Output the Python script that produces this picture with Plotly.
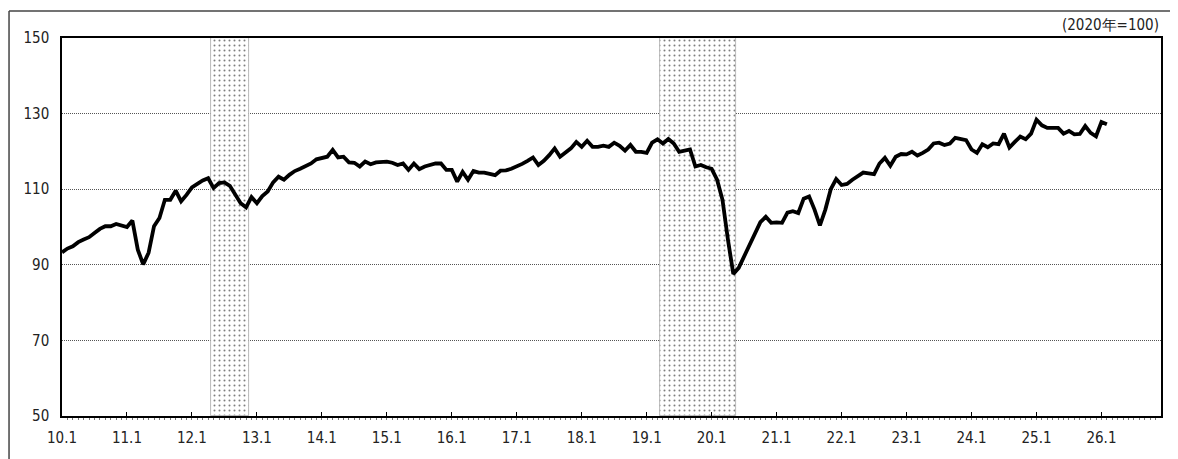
import pandas as pd
import plotly.graph_objects as go

# monthly index, 2010-01 .. 2026-02 (2020 = 100)
start_month = "2010-01"
values = [
    93.3, 94.3, 94.9, 96.0, 96.7, 97.3, 98.4, 99.5, 100.2, 100.2, 100.8, 100.4,
    100.0, 101.7, 94.0, 90.1, 93.2, 100.2, 102.4, 107.2, 107.2, 109.6, 106.8, 108.5,
    110.5, 111.4, 112.3, 112.9, 110.3, 111.6, 111.8, 110.9, 108.5, 106.3, 105.2, 107.9,
    106.3, 108.2, 109.4, 111.8, 113.3, 112.5, 113.8, 114.8, 115.4, 116.0, 116.8, 117.9,
    118.3, 118.6, 120.4, 118.4, 118.6, 117.1, 117.0, 116.0, 117.3, 116.6, 117.1, 117.3,
    117.3, 117.0, 116.4, 116.8, 115.1, 116.8, 115.3, 116.0, 116.4, 116.8, 116.8, 115.1,
    115.1, 112.0, 114.6, 112.5, 114.8, 114.4, 114.4, 114.0, 113.7, 114.9, 115.0, 115.4,
    116.0, 116.7, 117.5, 118.4, 116.4, 117.5, 119.0, 120.8, 118.6, 119.6, 120.8, 122.5,
    121.2, 122.8, 121.2, 121.2, 121.5, 121.2, 122.3, 121.5, 120.2, 121.7, 119.9, 119.9,
    119.6, 122.3, 123.2, 122.1, 123.3, 122.1, 119.9, 120.2, 120.5, 116.0, 116.4, 115.8,
    115.4, 112.5, 107.2, 96.7, 87.6, 89.2, 92.3, 95.6, 98.6, 101.3, 102.7, 101.1,
    101.2, 101.1, 103.8, 104.2, 103.7, 107.5, 108.1, 104.6, 100.4, 104.6, 110.0, 112.7,
    111.1, 111.4, 112.5, 113.5, 114.4, 114.2, 114.0, 116.8, 118.3, 116.2, 118.6, 119.3,
    119.2, 119.9, 118.9, 119.6, 120.5, 122.1, 122.3, 121.7, 122.1, 123.6, 123.2, 123.0,
    120.5, 119.6, 121.9, 121.1, 122.1, 121.9, 124.7, 121.0, 122.5, 123.9, 123.2, 124.7,
    128.4, 126.9, 126.2, 126.1, 126.2, 124.7, 125.4, 124.5, 124.6, 126.7, 124.9, 124.0,
    127.8, 127.2,
]

# shaded periods (peak month, trough month)
recessions = [("2012-04", "2012-11"), ("2019-03", "2020-05")]

tick_labels = ["10.1", "11.1", "12.1", "13.1", "14.1", "15.1", "16.1", "17.1", "18.1",
               "19.1", "20.1", "21.1", "22.1", "23.1", "24.1", "25.1", "26.1"]
y_ticks = [50, 70, 90, 110, 130, 150]
unit_note = "(2020年=100)"

FONT = "Liberation Sans Narrow, DejaVu Sans Condensed, Arial Narrow, sans-serif"

months = pd.period_range(start_month, periods=len(values), freq="M")
x = list(range(len(values)))


def month_pos(m):
    return (pd.Period(m, freq="M") - months[0]).n


fig = go.Figure()

# shade from just after the peak month through the trough month
for a, b in recessions:
    p0, p1 = month_pos(a) + 0.5, month_pos(b) + 0.5
    fig.add_trace(go.Bar(
        x=[(p0 + p1) / 2], y=[150 - 50], base=[50], width=[p1 - p0],
        marker=dict(color="white", line=dict(color="#a8a8a8", width=0.8),
                    pattern=dict(shape=".", fgcolor="#000000", bgcolor="white",
                                 size=5, solidity=0.13)),
        showlegend=False, hoverinfo="skip",
    ))

fig.add_trace(go.Scatter(
    x=x, y=values, mode="lines",
    line=dict(color="black", width=3.8),
    showlegend=False,
))

# the page body adds an 8px offset, so the figure is 8px smaller each way
fig.update_layout(
    width=1170, height=451,
    margin=dict(l=54, r=17, t=30, b=43),
    paper_bgcolor="white", plot_bgcolor="white",
    font=dict(family=FONT, size=15, color="#222222"),
    bargap=0,
    xaxis=dict(
        range=[0, 203],
        tickvals=[12 * i for i in range(len(tick_labels))],
        ticktext=tick_labels,
        ticks="inside", ticklen=4, tickcolor="black", tickwidth=1,
        minor=dict(dtick=1, tick0=0, ticks="outside", ticklen=2,
                   tickcolor="#777777", tickwidth=1),
        showgrid=False, zeroline=False,
        showline=True, linecolor="black", linewidth=1.5, mirror=True,
        ticklabelstandoff=7, automargin=False,
    ),
    yaxis=dict(
        range=[50, 150],
        tickvals=y_ticks,
        ticks="", showgrid=True, gridcolor="#555555", gridwidth=1,
        griddash="1px,1px", zeroline=False,
        showline=True, linecolor="black", linewidth=1.5, mirror=True,
        ticklabelstandoff=8, automargin=False,
    ),
    shapes=[
        dict(type="line", xref="paper", yref="paper",
             x0=-0.0482, x1=1.02, y0=1.0714, y1=1.0714,
             line=dict(color="#444444", width=1.5)),
        dict(type="line", xref="paper", yref="paper",
             x0=-0.0482, x1=-0.0482, y0=1.0714, y1=-0.12,
             line=dict(color="#444444", width=1.5)),
    ],
    annotations=[
        dict(text=unit_note, xref="paper", yref="paper", x=1.0, y=1.005,
             xanchor="right", yanchor="bottom", showarrow=False,
             font=dict(family=FONT, size=15, color="#222222")),
    ],
)

fig.write_html("out.html")
